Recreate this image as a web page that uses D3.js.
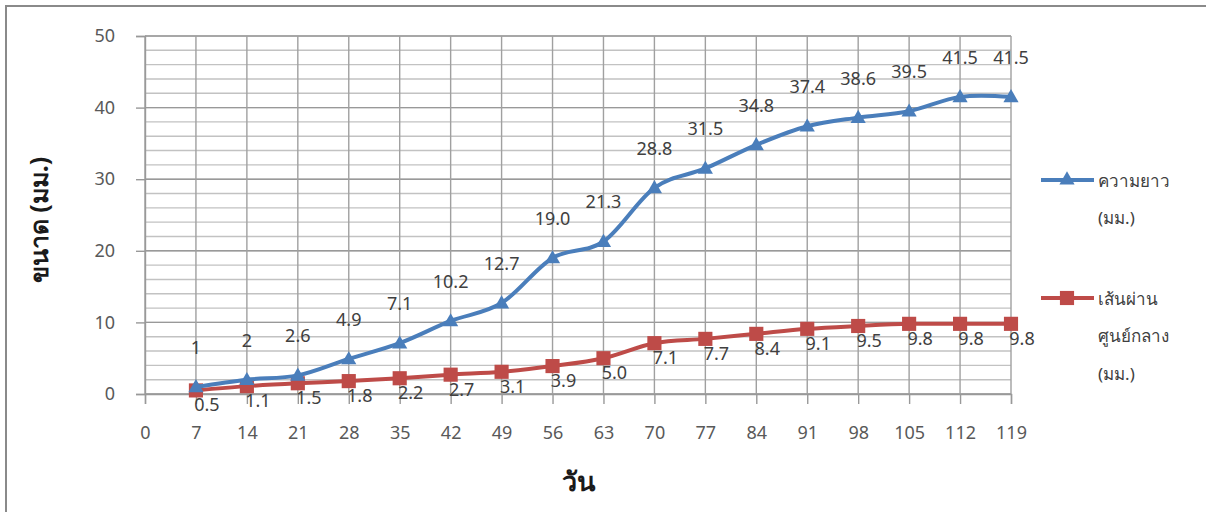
<!DOCTYPE html>
<html>
<head>
<meta charset="utf-8">
<script src="https://cdn.jsdelivr.net/npm/d3@7/dist/d3.min.js"></script>
<style>
  html, body { margin: 0; padding: 0; background: #fff; }
  svg { display: block; }
  text { font-family: "Noto Sans", "Open Sans", sans-serif; }
</style>
</head>
<body>
<svg id="chart" width="1206" height="512"></svg>
<script>
// Days on the category axis (day 0 carries no measurement)
const days = ["0", "7", "14", "21", "28", "35", "42", "49", "56", "63", "70", "77", "84", "91", "98", "105", "112", "119"];
const measuredDays = days.slice(1);

// Length (mm) as printed on the labels
const lengthLabels = ["1", "2", "2.6", "4.9", "7.1", "10.2", "12.7", "19.0", "21.3", "28.8", "31.5", "34.8", "37.4", "38.6", "39.5", "41.5", "41.5"];
// Diameter (mm) as printed on the labels
const diameterLabels = ["0.5", "1.1", "1.5", "1.8", "2.2", "2.7", "3.1", "3.9", "5.0", "7.1", "7.7", "8.4", "9.1", "9.5", "9.8", "9.8", "9.8"];

const lengthValues = lengthLabels.map(Number);
const diameterValues = diameterLabels.map(Number);

const yTicks = [0, 10, 20, 30, 40, 50];
const yMinor = d3.range(0, 51, 2);

const seriesNames = [["ความยาว", "(มม.)"], ["เส้นผ่าน", "ศูนย์กลาง", "(มม.)"]];
const xTitle = "วัน";
const yTitle = "ขนาด (มม.)";

const svg = d3.select("#chart");

// Outer frame
svg.append("rect")
  .attr("x", 6).attr("y", 6)
  .attr("width", 1260).attr("height", 560)
  .attr("fill", "none").attr("stroke", "#8a8a8a").attr("stroke-width", 2);

const x = d3.scalePoint().domain(days).range([145, 1011]).padding(0);
const y = d3.scaleLinear().domain([0, 50]).range([394, 36]);

const grid = svg.append("g");

// Minor horizontal grid
grid.selectAll("line.minor").data(yMinor).join("line")
  .attr("x1", 145).attr("x2", 1011)
  .attr("y1", d => y(d)).attr("y2", d => y(d))
  .attr("stroke", "#c2c2c2").attr("stroke-width", 1.4);

// Major horizontal grid
grid.selectAll("line.major").data(yTicks).join("line")
  .attr("x1", 145).attr("x2", 1011)
  .attr("y1", d => y(d)).attr("y2", d => y(d))
  .attr("stroke", "#999999").attr("stroke-width", 1.4);

// Vertical grid
grid.selectAll("line.vert").data(days).join("line")
  .attr("x1", d => x(d)).attr("x2", d => x(d))
  .attr("y1", 36).attr("y2", 394)
  .attr("stroke", "#a0a0a0").attr("stroke-width", 1.4);

// Y axis
const yAxis = svg.append("g")
  .attr("transform", "translate(145,0)")
  .call(d3.axisLeft(y).tickValues(yTicks).tickSize(9).tickPadding(21).tickFormat(d3.format("d")));
yAxis.select(".domain").attr("stroke", "#999999").attr("stroke-width", 1.4);
yAxis.selectAll(".tick line").attr("stroke", "#999999").attr("stroke-width", 1.4);
yAxis.selectAll(".tick text")
  .attr("font-size", 18).attr("fill", "#595959")
  .attr("font-family", "'Noto Sans', sans-serif");

// X axis
const xAxis = svg.append("g")
  .attr("transform", "translate(0,394)")
  .call(d3.axisBottom(x).tickSize(10).tickPadding(0));
xAxis.select(".domain").attr("stroke", "#999999").attr("stroke-width", 1.4);
xAxis.selectAll(".tick line").attr("stroke", "#999999").attr("stroke-width", 1.4);
xAxis.selectAll(".tick text")
  .attr("y", 39).attr("dy", "0.35em")
  .attr("font-size", 18).attr("fill", "#595959")
  .attr("font-family", "'Noto Sans', sans-serif");

// Axis titles
svg.append("text")
  .attr("x", 578).attr("y", 480)
  .attr("text-anchor", "middle").attr("dominant-baseline", "central")
  .attr("font-size", 27).attr("font-weight", "bold").attr("fill", "#1a1a1a")
  .text(xTitle);

svg.append("text")
  .attr("transform", "translate(38,220) rotate(-90)")
  .attr("text-anchor", "middle").attr("dominant-baseline", "central")
  .attr("font-size", 25).attr("font-weight", "bold").attr("fill", "#1a1a1a")
  .text(yTitle);

const line = d3.line()
  .x(d => x(d.day))
  .y(d => y(d.v))
  .curve(d3.curveCardinal.tension(0));

const lenData = measuredDays.map((d, i) => ({ day: d, v: lengthValues[i], label: lengthLabels[i] }));
const diaData = measuredDays.map((d, i) => ({ day: d, v: diameterValues[i], label: diameterLabels[i] }));

const blue = "#4a7ebb";
const red = "#be4b48";
const triangle = d3.symbol().type(d3.symbolTriangle).size(100);
const square = d3.symbol().type(d3.symbolSquare).size(200);

// Diameter series
svg.append("path").datum(diaData)
  .attr("d", line).attr("fill", "none")
  .attr("stroke", red).attr("stroke-width", 4).attr("stroke-linejoin", "round");
svg.selectAll("path.sq").data(diaData).join("path")
  .attr("transform", d => `translate(${x(d.day)},${y(d.v)})`)
  .attr("d", square).attr("fill", red);

// Length series
svg.append("path").datum(lenData)
  .attr("d", line).attr("fill", "none")
  .attr("stroke", blue).attr("stroke-width", 4).attr("stroke-linejoin", "round");
svg.selectAll("path.tri").data(lenData).join("path")
  .attr("transform", d => `translate(${x(d.day)},${y(d.v) + 1})`)
  .attr("d", triangle).attr("fill", blue);

// Data labels
svg.selectAll("text.lenlab").data(lenData).join("text")
  .attr("x", d => x(d.day)).attr("y", d => y(d.v) - 40)
  .attr("text-anchor", "middle").attr("dominant-baseline", "central")
  .attr("font-size", 18).attr("fill", "#404040")
  .text(d => d.label);

svg.selectAll("text.dialab").data(diaData).join("text")
  .attr("x", d => x(d.day) + 11).attr("y", d => y(d.v) + 14)
  .attr("text-anchor", "middle").attr("dominant-baseline", "central")
  .attr("font-size", 18).attr("fill", "#404040")
  .text(d => d.label);

// Legend
const legend = svg.append("g");
const legendRows = [
  { color: blue, sym: triangle, y: 180, lines: seriesNames[0] },
  { color: red, sym: square, y: 298, lines: seriesNames[1] }
];
legendRows.forEach(r => {
  legend.append("line")
    .attr("x1", 1041).attr("x2", 1094).attr("y1", r.y).attr("y2", r.y)
    .attr("stroke", r.color).attr("stroke-width", 4);
  legend.append("path")
    .attr("transform", `translate(1067,${r.y})`)
    .attr("d", r.sym).attr("fill", r.color);
  r.lines.forEach((t, i) => {
    legend.append("text")
      .attr("x", 1098).attr("y", r.y + i * 37.5)
      .attr("dominant-baseline", "central")
      .attr("font-size", 17).attr("fill", "#404040")
      .text(t);
  });
});
</script>
</body>
</html>
